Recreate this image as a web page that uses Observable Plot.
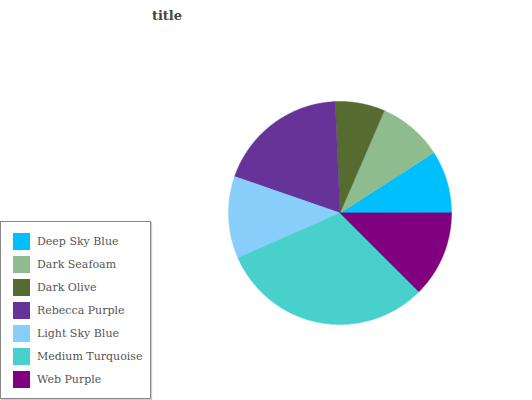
<!DOCTYPE html>
<html>
<head>
<meta charset="utf-8">
<script src="https://cdn.jsdelivr.net/npm/d3@7"></script>
<script src="https://cdn.jsdelivr.net/npm/@observablehq/plot@0.6"></script>
<style>
  html, body { margin: 0; padding: 0; background: #fff; }
  #wrap { position: relative; width: 532px; height: 400px; overflow: hidden; font-family: "DejaVu Serif", serif; }
  #title { position: absolute; left: 0; width: 334px; top: 8px; text-align: center; font-weight: bold; font-size: 13px; color: #444; }
  #legend { position: absolute; left: 0; top: 221px; width: 149px; height: 176px; border: 1px solid #888; box-shadow: 1px 1px 1px #ccc; background: #fff; }
  .row { position: absolute; left: 12px; height: 17px; display: flex; align-items: center; }
  .sw { width: 17px; height: 17px; margin-right: 7px; }
  .lb { font-size: 11px; color: #555; white-space: nowrap; }
</style>
</head>
<body>
<div id="wrap">
  <div id="chart"></div>
  <div id="title">title</div>
  <div id="legend"></div>
</div>
<script>
const categories = ["Deep Sky Blue", "Dark Seafoam", "Dark Olive", "Rebecca Purple", "Light Sky Blue", "Medium Turquoise", "Web Purple"];
const values = [9.1, 9.4, 7.2, 19.0, 11.9, 30.9, 12.5];
const colors = ["#00BFFF", "#8FBC8F", "#556B2F", "#663399", "#87CEFA", "#48D1CC", "#800080"];

const total = d3.sum(values);
let start = 0;
const features = categories.map((name, i) => {
  const a0 = start;
  const a1 = start + values[i] / total * 2 * Math.PI;
  start = a1;
  const ring = [[0, 0]];
  const n = Math.max(2, Math.ceil((a1 - a0) / 0.01));
  for (let k = 0; k <= n; k++) {
    const a = a0 + (a1 - a0) * k / n;
    ring.push([Math.cos(a), Math.sin(a)]);
  }
  ring.push([0, 0]);
  return {type: "Feature", properties: {name}, geometry: {type: "Polygon", coordinates: [ring]}};
});

const frame = {type: "Feature", geometry: {type: "Polygon", coordinates: [[[-1,-1],[1,-1],[1,1],[-1,1],[-1,-1]]]}};

const plot = Plot.plot({
  width: 532,
  height: 400,
  marginLeft: 228,
  marginRight: 81,
  marginTop: 101,
  marginBottom: 76,
  projection: {type: "reflect-y", domain: frame},
  color: {domain: categories, range: colors},
  marks: [
    Plot.geo(features, {fill: d => d.properties.name, stroke: d => d.properties.name, strokeWidth: 0.5})
  ]
});
document.getElementById("chart").appendChild(plot);

const legend = document.getElementById("legend");
categories.forEach((c, i) => {
  const row = document.createElement("div");
  row.className = "row";
  row.style.top = (11 + i * 23) + "px";
  row.innerHTML = `<div class="sw" style="background:${colors[i]}"></div><div class="lb">${c}</div>`;
  legend.appendChild(row);
});
</script>
</body>
</html>
